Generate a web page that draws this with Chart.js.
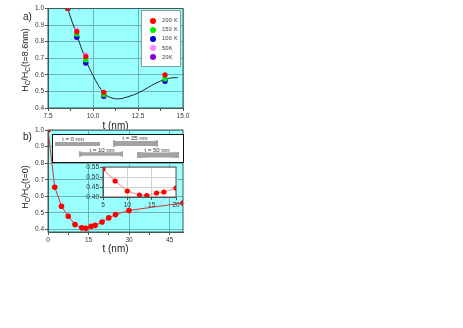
<!DOCTYPE html>
<html>
<head>
<meta charset="utf-8">
<script src="https://cdn.jsdelivr.net/npm/chart.js@4"></script>
<style>
    html, body { margin: 0; padding: 0; background: #fff; }
    #page { position: relative; width: 463px; height: 328px; overflow: hidden; font-family: "Liberation Sans", Arial, sans-serif; color: #222; }
    canvas { position: absolute; }
    .txt { position: absolute; white-space: nowrap; }
    .ytitle { position: absolute; font-size: 9px; white-space: nowrap; transform: translate(-50%, -50%) rotate(-90deg); }
    .ytitle sub { font-size: 6.5px; vertical-align: -2px; line-height: 0; }
    #legend { position: absolute; left: 141px; top: 10px; width: 38px; height: 55px; background: #fff; border: 1px solid #8a9a9a; }
    .legend-row { position: absolute; left: 0; width: 38px; height: 9px; font-size: 5.5px; line-height: 9px; letter-spacing: 0.3px; }
    .legend-dot { position: absolute; left: 8px; top: 1.5px; width: 6px; height: 6px; border-radius: 50%; }
    .legend-name { position: absolute; left: 20px; color: #333; }
    #photos { position: absolute; left: 52px; top: 134px; width: 130px; height: 27px; background: #fff; border: 1px solid #111; }
    .sample { position: absolute; background: #a2a2a2; }
    .sample-label { position: absolute; font-size: 6px; color: #333; transform: translateX(-50%); white-space: nowrap; }
</style>
</head>
<body>
<div id="page">
    <canvas id="chartA"></canvas>
    <canvas id="chartB"></canvas>
    <canvas id="chartInset"></canvas>
    <div id="legend"></div>
    <div id="photos"></div>
    <div class="txt" style="left:23px;top:11px;font-size:10px">a)</div>
    <div class="txt" style="left:23px;top:131px;font-size:10px">b)</div>
    <div class="ytitle" style="left:25px;top:60px">H<sub>C</sub>/H<sub>C</sub>(t=8.6nm)</div>
    <div class="ytitle" style="left:25px;top:187px">H<sub>C</sub>/H<sub>C</sub>(t=0)</div>
</div>
<script>
const thicknessA = [8.6, 9.1, 9.6, 10.6, 14];
const values200K = [1.0, 0.86, 0.71, 0.495, 0.60];
const values150K = [1.0, 0.845, 0.69, 0.48, 0.575];
const values100K = [1.0, 0.83, 0.675, 0.475, 0.565];
const values50K = [1.0, 0.87, 0.72, 0.49, 0.59];
const values20K = [1.0, 0.825, 0.67, 0.47, 0.56];
const fitX = [8.55, 8.6, 9.1, 9.6, 10, 10.6, 11, 11.4, 12, 12.5, 13, 13.5, 14, 14.4, 14.7];
const fitY = [1.02, 1.0, 0.84, 0.69, 0.595, 0.49, 0.462, 0.455, 0.47, 0.49, 0.52, 0.55, 0.572, 0.582, 0.583];

const thicknessB = [0, 2.5, 5, 7.5, 10, 12.5, 14, 16, 17.5, 20, 22.5, 25, 30, 50];
const ratioB = [1.0, 0.655, 0.54, 0.48, 0.43, 0.41, 0.407, 0.42, 0.425, 0.445, 0.47, 0.49, 0.515, 0.56];
const thicknessInset = [5, 7.5, 10, 12.5, 14, 16, 17.5, 20];
const ratioInset = [0.54, 0.48, 0.43, 0.41, 0.407, 0.42, 0.425, 0.445];

const temperatures = ['200 K', '150 K', '100 K', '50K', '20K'];
const tempValues = [values200K, values150K, values100K, values50K, values20K];
const tempColors = ['#ff0000', '#00ee00', '#0000dd', '#ff80ff', '#8000e0'];

const samples = [
    { label: 't = 0 nm', left: 2, top: 7, w: 45, h: 4, path: 'none', tx: 20, ty: 1 },
    { label: 't = 25 nm', left: 60, top: 5, w: 45, h: 7, path: 'polygon(0 0,8% 15%,92% 15%,100% 0,100% 100%,92% 85%,8% 85%,0 100%)', tx: 82, ty: 0 },
    { label: 't = 10 nm', left: 26, top: 16, w: 44, h: 6, path: 'polygon(0 0,8% 20%,92% 20%,100% 0,100% 100%,92% 80%,8% 80%,0 100%)', tx: 49, ty: 12 },
    { label: 't = 50 nm', left: 84, top: 17, w: 42, h: 6, path: 'polygon(0 0,30% 8%,70% 8%,100% 0,100% 100%,70% 92%,30% 92%,0 100%)', tx: 104, ty: 12 }
];

const GRID = '#6fb4b4';
const AXIS = '#3f5a5a';

// fills the plot and strokes the frame, chart.js has no option for it
const plotFrame = {
    id: 'plotFrame',
    beforeDraw(chart, args, opts) {
        const a = chart.chartArea;
        const c = chart.ctx;
        c.save();
        c.fillStyle = opts.fill;
        c.fillRect(a.left, a.top, a.width, a.height);
        c.restore();
    },
    afterDraw(chart, args, opts) {
        const a = chart.chartArea;
        const c = chart.ctx;
        c.save();
        c.strokeStyle = opts.stroke;
        c.lineWidth = 1;
        c.strokeRect(a.left, a.top, a.width, a.height);
        c.restore();
    }
};
Chart.register(plotFrame);

function place(id, left, top, w, h) {
    const el = document.getElementById(id);
    el.style.left = left + 'px';
    el.style.top = top + 'px';
    el.style.width = w + 'px';
    el.style.height = h + 'px';
    el.width = w;
    el.height = h;
    return el.getContext('2d');
}

function fixWidth(px) {
    return function (scale) { scale.width = px; };
}
function fixHeight(px) {
    return function (scale) { scale.height = px; };
}

function makeOptions(o) {
    return {
        responsive: false,
        animation: false,
        layout: { padding: o.padding },
        plugins: {
            legend: { display: false },
            tooltip: { enabled: false },
            plotFrame: { fill: o.fill, stroke: o.frame }
        },
        scales: {
            x: {
                type: 'linear',
                min: o.xMin,
                max: o.xMax,
                afterFit: fixHeight(o.xHeight),
                afterBuildTicks: function (scale) {
                    scale.ticks = o.xTicks.map(function (v) { return { value: v }; });
                },
                title: o.xTitle ? { display: true, text: o.xTitle, font: { size: 10, family: 'Liberation Sans' }, color: '#222', padding: { top: 0, bottom: 0 } } : { display: false },
                border: { color: o.frame },
                grid: {
                    color: function (ctx) { return o.xLabeled.includes(ctx.tick && ctx.tick.value) ? o.grid : 'rgba(0,0,0,0)'; },
                    tickColor: o.frame,
                    tickLength: 3
                },
                ticks: {
                    autoSkip: false,
                    maxRotation: 0,
                    padding: 1,
                    color: '#333',
                    font: { size: o.tickSize, family: 'Liberation Sans' },
                    callback: function (v) { return o.xLabeled.includes(v) ? o.xFormat(v) : ''; }
                }
            },
            y: {
                type: 'linear',
                min: o.yMin,
                max: o.yMax,
                afterFit: fixWidth(o.yWidth),
                afterBuildTicks: function (scale) {
                    scale.ticks = o.yTicks.map(function (v) { return { value: v }; });
                },
                border: { color: o.frame },
                grid: { color: o.grid, tickColor: o.frame, tickLength: 3 },
                ticks: {
                    autoSkip: false,
                    padding: 1,
                    color: '#333',
                    font: { size: o.tickSize, family: 'Liberation Sans' },
                    callback: function (v) { return v.toFixed(o.yDigits); }
                }
            }
        }
    };
}

function toPoints(xs, ys) {
    return xs.map(function (x, i) { return { x: x, y: ys[i] }; });
}

// first dataset is painted last, so 200 K stays on top and the fit goes under everything
const datasetsA = temperatures.map(function (name, i) {
    return {
        label: name,
        data: toPoints(thicknessA, tempValues[i]),
        showLine: false,
        pointRadius: 2.6,
        pointBorderWidth: 0,
        pointBackgroundColor: tempColors[i]
    };
});
datasetsA.push({
    label: 'fit',
    data: toPoints(fitX, fitY),
    showLine: true,
    borderColor: '#1c2a2a',
    borderWidth: 1,
    pointRadius: 0,
    cubicInterpolationMode: 'monotone'
});

new Chart(place('chartA', 30, 0, 170, 132), {
    type: 'scatter',
    data: { datasets: datasetsA },
    options: makeOptions({
        padding: { left: 0, right: 17, top: 8.5, bottom: 0 },
        fill: '#99ffff', frame: AXIS, grid: GRID,
        xMin: 7.5, xMax: 15, xHeight: 24,
        xTicks: [7.5, 8.75, 10, 11.25, 12.5, 13.75, 15], xLabeled: [7.5, 10, 12.5, 15],
        xFormat: function (v) { return v.toFixed(1); }, xTitle: 't (nm)',
        yMin: 0.4, yMax: 1.0, yWidth: 18,
        yTicks: [0.4, 0.5, 0.6, 0.7, 0.8, 0.9, 1.0], yDigits: 1, tickSize: 6.5
    })
});

new Chart(place('chartB', 30, 125, 170, 130), {
    type: 'scatter',
    data: { datasets: [{
        label: 'b',
        data: toPoints(thicknessB, ratioB),
        showLine: true,
        borderColor: '#d83030',
        borderWidth: 1,
        pointRadius: 2.8,
        pointBorderWidth: 0,
        pointBackgroundColor: '#ff0000'
    }] },
    options: makeOptions({
        padding: { left: 0, right: 17, top: 5, bottom: 0 },
        fill: '#99ffff', frame: AXIS, grid: GRID,
        xMin: 0, xMax: 50, xHeight: 23,
        xTicks: [0, 7.5, 15, 22.5, 30, 37.5, 45], xLabeled: [0, 15, 30, 45],
        xFormat: function (v) { return String(v); }, xTitle: 't (nm)',
        yMin: 0.385, yMax: 1.0, yWidth: 18,
        yTicks: [0.4, 0.5, 0.6, 0.7, 0.8, 0.9, 1.0], yDigits: 1, tickSize: 6.5
    })
});

new Chart(place('chartInset', 83, 160, 100, 50), {
    type: 'scatter',
    data: { datasets: [{
        label: 'inset',
        data: toPoints(thicknessInset, ratioInset),
        showLine: true,
        borderColor: '#ff8080',
        borderWidth: 1,
        pointRadius: 2.6,
        pointBorderWidth: 0,
        pointBackgroundColor: '#ff0000'
    }] },
    options: makeOptions({
        padding: { left: 0, right: 7, top: 7, bottom: 0 },
        fill: '#ffffff', frame: '#555555', grid: '#d0d0d0',
        xMin: 5, xMax: 20, xHeight: 13,
        xTicks: [5, 10, 15, 20], xLabeled: [5, 10, 15, 20],
        xFormat: function (v) { return String(v); }, xTitle: '',
        yMin: 0.4, yMax: 0.55, yWidth: 20,
        yTicks: [0.4, 0.45, 0.5, 0.55], yDigits: 2, tickSize: 6.5
    })
});

const legendBox = document.getElementById('legend');
temperatures.forEach(function (name, i) {
    const row = document.createElement('div');
    row.className = 'legend-row';
    row.style.top = (5 + i * 9.2) + 'px';
    row.innerHTML = '<span class="legend-dot" style="background:' + tempColors[i] + '"></span><span class="legend-name">' + name + '</span>';
    legendBox.appendChild(row);
});

const photoBox = document.getElementById('photos');
samples.forEach(function (s) {
    const bar = document.createElement('div');
    bar.className = 'sample';
    bar.style.cssText = 'left:' + s.left + 'px;top:' + s.top + 'px;width:' + s.w + 'px;height:' + s.h + 'px;clip-path:' + s.path;
    photoBox.appendChild(bar);
    const lab = document.createElement('div');
    lab.className = 'sample-label';
    lab.textContent = s.label;
    lab.style.left = s.tx + 'px';
    lab.style.top = s.ty + 'px';
    photoBox.appendChild(lab);
});
</script>
</body>
</html>
